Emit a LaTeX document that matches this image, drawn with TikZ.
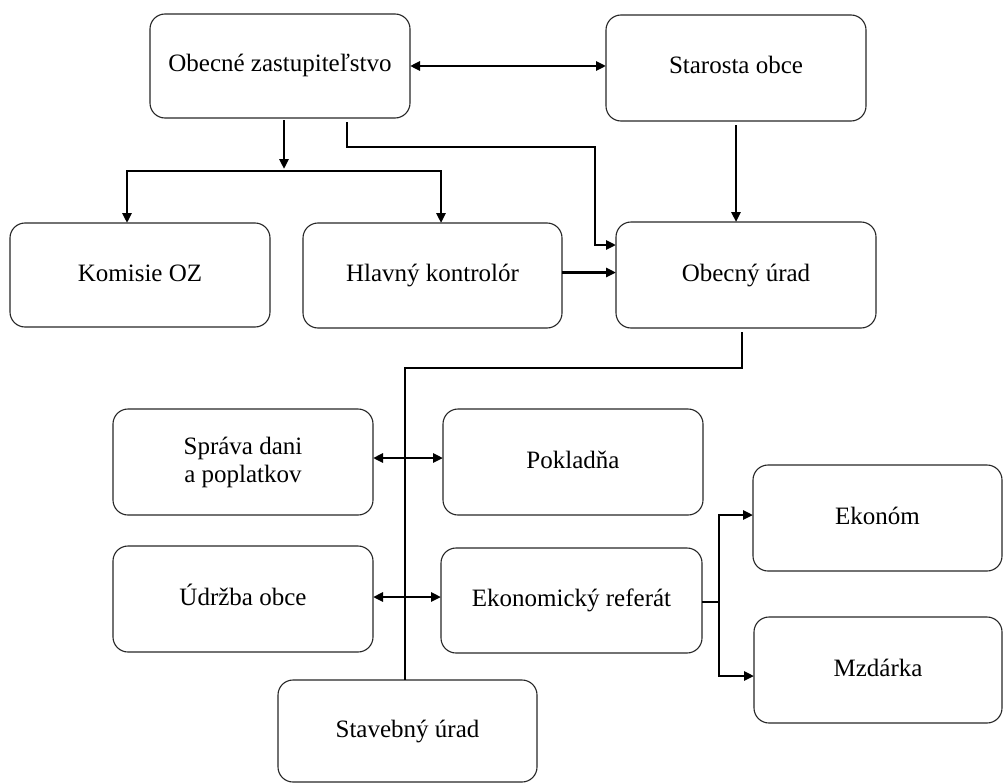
\documentclass[tikz,border=0pt]{standalone}
\usepackage{fontspec}
\setmainfont{Liberation Serif}
\usetikzlibrary{arrows.meta}
\begin{document}
\begin{tikzpicture}[x=1pt,y=-1pt,
  boxbase/.style={draw=black!85, line width=1.1pt, rounded corners=15pt, inner sep=0pt, outer sep=0pt,
    align=center, font=\fontsize{25}{28}\selectfont},
  box/.style={boxbase, text height=17pt, text depth=5pt},
  conn/.style={line width=2.6pt, black},
  arr/.style={conn, -{Triangle[length=10pt,width=9pt]}},
  dbl/.style={conn, {Triangle[length=10pt,width=9pt]}-{Triangle[length=10pt,width=9pt]}}
]
\useasboundingbox (0,0) rectangle (1004,784);
% boxes
\node[box, minimum width=260pt, minimum height=104pt] (oz) at (280,66) {Obecné zastupiteľstvo};
\node[box, minimum width=260pt, minimum height=106pt] (sta) at (736,68) {Starosta obce};
\node[box, minimum width=260pt, minimum height=104pt] (kom) at (140,275) {Komisie OZ};
\node[box, minimum width=259pt, minimum height=105pt] (hk) at (432.5,275.5) {Hlavný kontrolór};
\node[box, minimum width=260pt, minimum height=106pt] (ou) at (746,275) {Obecný úrad};
\node[boxbase, minimum width=260pt, minimum height=106pt] (spr) at (243,462) {Správa dani\\ a poplatkov};
\node[box, minimum width=260pt, minimum height=106pt] (pok) at (573,462) {Pokladňa};
\node[box, minimum width=260pt, minimum height=106pt] (udr) at (243,599) {Údržba obce};
\node[box, minimum width=261pt, minimum height=105pt] (eko) at (571.5,600.5) {Ekonomický referát};
\node[box, minimum width=259pt, minimum height=102pt] (stav) at (407.5,731) {Stavebný úrad};
\node[box, minimum width=249pt, minimum height=106pt] (ekon) at (877.5,518) {Ekonóm};
\node[box, minimum width=248pt, minimum height=106pt] (mzd) at (878,670) {Mzdárka};
% junction coordinates
\coordinate (j1) at (284,169);
\coordinate (b1) at (127,171);
\coordinate (b2) at (441,171);
\coordinate (c1) at (347,147);
\coordinate (c2) at (595,147);
\coordinate (c3) at (595,245);
\coordinate (d1) at (742,368);
\coordinate (d2) at (405,368);
\coordinate (e1) at (719,602);
\coordinate (e2) at (719,515);
\coordinate (e3) at (719,676);
% connectors
\draw[dbl] (oz.east) -- (oz.east -| sta.west);
\draw[arr] ([yshift=-2pt]j1 |- oz.south) -- (j1);
\draw[dbl] (b1 |- kom.north) -- (b1) -- (b2) -- (b2 |- hk.north);
\draw[arr] ([yshift=-4pt]c1 |- oz.south) -- (c1) -- (c2) -- (c3) -- (c3 -| ou.west);
\draw[arr] ([yshift=-4pt]sta.south) -- (sta.south |- ou.north);
\draw[arr] ([yshift=3pt]hk.east) -- ([yshift=3pt]hk.east -| ou.west);
\draw[conn] ([yshift=-4pt]d1 |- ou.south) -- (d1) -- (d2) -- (d2 |- stav.north);
\draw[dbl] ([yshift=4pt]spr.east) -- ([yshift=4pt]pok.west);
\draw[dbl] ([yshift=2pt]udr.east) -- ([yshift=2pt]udr.east -| eko.west);
\draw[conn] (e1 -| eko.east) -- (e1);
\draw[dbl] (e2 -| ekon.west) -- (e2) -- (e3) -- (e3 -| mzd.west);
\end{tikzpicture}
\end{document}
